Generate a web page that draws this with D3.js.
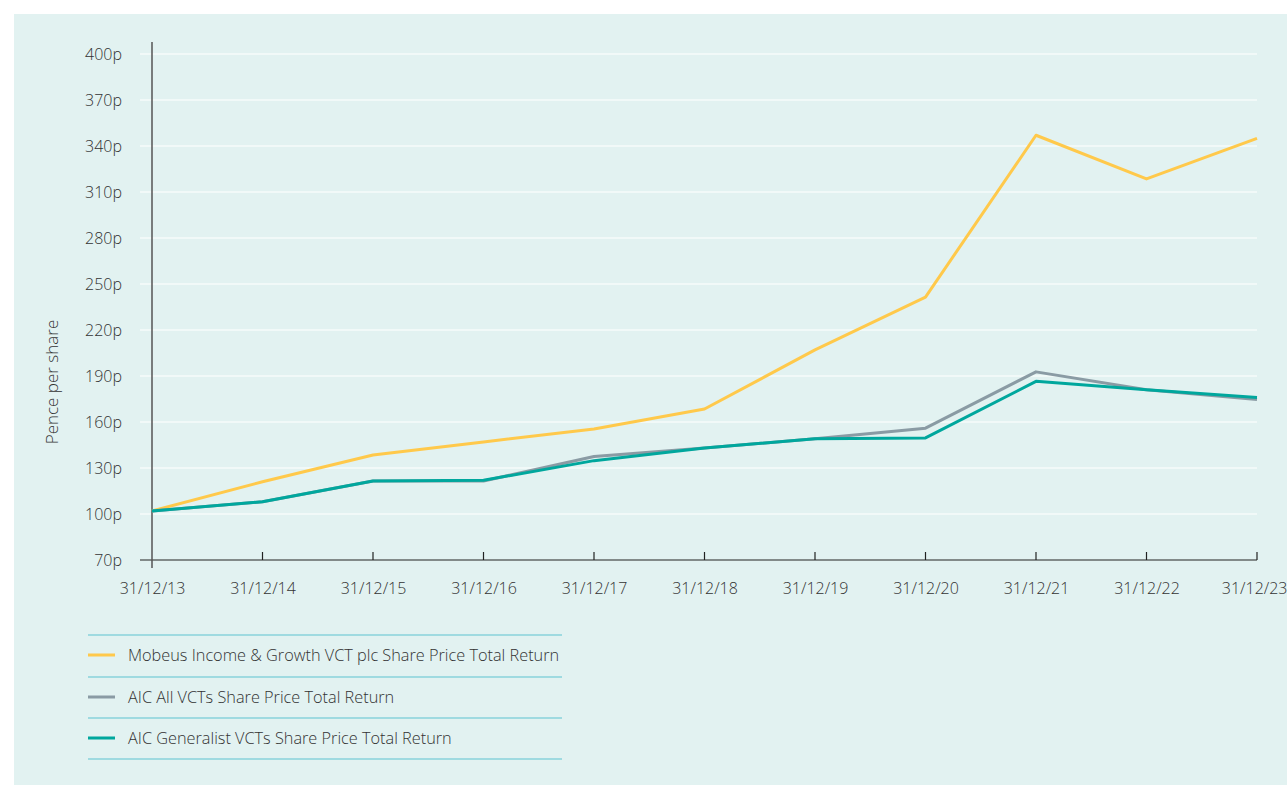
<!DOCTYPE html>
<html>
<head>
<meta charset="utf-8">
<script src="https://cdn.jsdelivr.net/npm/d3@7/dist/d3.min.js"></script>
<style>
  body { margin: 0; background: #fff; font-family: "Open Sans", "Noto Sans", sans-serif; }
  svg text { fill: #333333; font-weight: 300; }
</style>
</head>
<body>
<svg id="chart" width="1287" height="785"></svg>
<script>
// year-end dates on the x axis
const dates = ["31/12/13", "31/12/14", "31/12/15", "31/12/16", "31/12/17", "31/12/18",
               "31/12/19", "31/12/20", "31/12/21", "31/12/22", "31/12/23"];
const mobeus = [102, 121, 138.5, 147, 155.5, 168.5, 207, 241.5, 347, 318.5, 345];
const aicAll = [102, 108, 121.5, 121.5, 137.5, 143, 149, 156, 192.7, 181, 174.7];
const aicGeneralist = [102, 108, 121.5, 122, 134.8, 143, 149, 149.6, 186.5, 181, 176];
const yTicks = [70, 100, 130, 160, 190, 220, 250, 280, 310, 340, 370, 400];

const seriesNames = [
    "Mobeus Income & Growth VCT plc Share Price Total Return",
    "AIC All VCTs Share Price Total Return",
    "AIC Generalist VCTs Share Price Total Return"
];
const seriesColors = ["#ffc94b", "#8a9ba4", "#00a79d"];

const svg = d3.select("#chart");

// light teal panel
svg.append("rect")
    .attr("x", 14).attr("y", 14)
    .attr("width", 1287 - 14).attr("height", 785 - 14)
    .attr("fill", "#e2f2f1");

const plotLeft = 152, plotRight = 1257, plotTop = 54, plotBottom = 560;

const x = d3.scalePoint()
    .domain(dates)
    .range([plotLeft, plotRight]);

const y = d3.scaleLinear()
    .domain([70, 400])
    .range([plotBottom, plotTop]);

// white gridlines
svg.append("g")
    .selectAll("line")
    .data(yTicks.filter(d => d > 70))
    .enter()
    .append("line")
    .attr("x1", 140).attr("x2", plotRight)
    .attr("y1", d => y(d)).attr("y2", d => y(d))
    .attr("stroke", "#ffffff")
    .attr("stroke-width", 1.2);

// y tick labels
svg.append("g")
    .selectAll("text")
    .data(yTicks)
    .enter()
    .append("text")
    .attr("x", 122)
    .attr("y", d => y(d))
    .attr("dy", "0.35em")
    .attr("text-anchor", "end")
    .style("font-size", "16px")
    .text(d => d + "p");

// y axis title
svg.append("text")
    .attr("transform", `translate(58,382) rotate(-90)`)
    .attr("text-anchor", "middle")
    .style("font-size", "17px")
    .text("Pence per share");

// x axis labels
const xAxis = d3.axisBottom(x)
    .tickSize(0)
    .tickPadding(23)
    .tickFormat(d => d);
const xg = svg.append("g")
    .attr("transform", `translate(0,${plotBottom})`)
    .call(xAxis);
xg.select(".domain").remove();
xg.selectAll("text")
    .style("font-size", "16px")
    .style("font-family", "\"Open Sans\", sans-serif")
    .attr("fill", "#333333");
// last label sits against the right edge
xg.selectAll("text").filter(d => d === dates[dates.length - 1])
    .attr("text-anchor", "end")
    .attr("dx", "30");

svg.append("line")
    .attr("x1", 140).attr("x2", plotRight)
    .attr("y1", plotBottom).attr("y2", plotBottom)
    .attr("stroke", "#222")
    .attr("stroke-width", 1.2);

svg.append("g")
    .selectAll("line")
    .data(dates.slice(1))
    .enter()
    .append("line")
    .attr("x1", d => x(d)).attr("x2", d => x(d))
    .attr("y1", plotBottom - 8).attr("y2", plotBottom)
    .attr("stroke", "#222")
    .attr("stroke-width", 1.2);

// y axis line
svg.append("line")
    .attr("x1", plotLeft).attr("x2", plotLeft)
    .attr("y1", 42).attr("y2", 568)
    .attr("stroke", "#555")
    .attr("stroke-width", 1.5);

// series lines
const line = d3.line()
    .x((d, i) => x(dates[i]))
    .y(d => y(d));

const allSeries = [mobeus, aicAll, aicGeneralist];
svg.append("g")
    .selectAll("path")
    .data(allSeries)
    .enter()
    .append("path")
    .attr("d", d => line(d))
    .attr("fill", "none")
    .attr("stroke", (d, i) => seriesColors[i])
    .attr("stroke-width", 3)
    .attr("stroke-linejoin", "round");

// legend
const legendRows = [655, 697, 738];
const legendRules = [635, 677, 718, 759];

svg.append("g")
    .selectAll("line")
    .data(legendRules)
    .enter()
    .append("line")
    .attr("x1", 88).attr("x2", 562)
    .attr("y1", d => d).attr("y2", d => d)
    .attr("stroke", "#5cc3d0")
    .attr("stroke-width", 1);

const legend = svg.append("g")
    .selectAll("g")
    .data(seriesNames)
    .enter()
    .append("g")
    .attr("transform", (d, i) => `translate(0,${legendRows[i]})`);

legend.append("line")
    .attr("x1", 88).attr("x2", 115)
    .attr("y1", 0).attr("y2", 0)
    .attr("stroke", (d, i) => seriesColors[i])
    .attr("stroke-width", 3);

legend.append("text")
    .attr("x", 128)
    .attr("dy", "0.35em")
    .style("font-size", "16.3px")
    .text(d => d);
</script>
</body>
</html>
